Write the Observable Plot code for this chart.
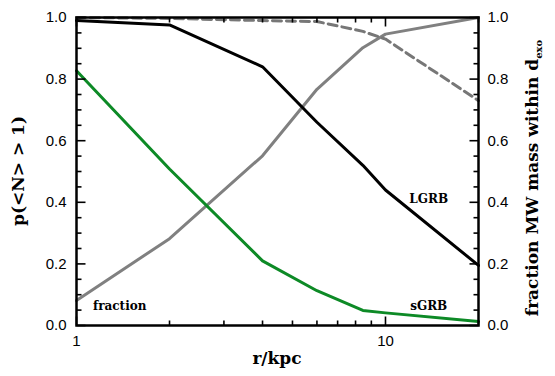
<!DOCTYPE html>
<html><head><meta charset="utf-8">
<script src="https://cdn.jsdelivr.net/npm/d3@7"></script>
<script src="https://cdn.jsdelivr.net/npm/@observablehq/plot@0.6"></script>
<style>body{margin:0;background:#fff}#chart svg{display:block}</style>
</head><body><div id="chart"></div>
<script>
const radius = [1, 2, 4, 6, 8.45, 10, 20];
const lgrb = [0.99, 0.976, 0.84, 0.66, 0.52, 0.44, 0.195];
const sgrb = [0.827, 0.508, 0.21, 0.113, 0.049, 0.041, 0.013];
const massFraction = [0.081, 0.282, 0.551, 0.767, 0.902, 0.946, 1.0];
const dashedFraction = [1.0, 0.997, 0.99, 0.987, 0.955, 0.93, 0.73];
const yTicks = [0, 0.2, 0.4, 0.6, 0.8, 1.0];
const yMinor = [0.05, 0.1, 0.15, 0.25, 0.3, 0.35, 0.45, 0.5, 0.55, 0.65, 0.7, 0.75, 0.85, 0.9, 0.95];
const xTicks = [1, 10];
const xMinor = [2, 3, 4, 5, 6, 7, 8, 9, 20];
const labels = [
  {text: "LGRB", r: 13.8, v: 0.41},
  {text: "sGRB", r: 13.8, v: 0.062},
  {text: "fraction", r: 1.38, v: 0.062}
];

const row = (ys) => radius.map((r, i) => ({r, v: ys[i]}));
const serif = "DejaVu Serif";
const sans = "Liberation Sans";

// inward tick helper built on vector marks positioned by the plot scales
const ticksV = (data, opts) => Plot.vector(data, {anchor: "start", stroke: "black", strokeWidth: 1.6, strokeLinecap: "butt", shape: {draw(ctx, l) { ctx.moveTo(0, 0); ctx.lineTo(0, -l); }}, ...opts});

const chart = Plot.plot({
  width: 555, height: 376,
  marginLeft: 76, marginRight: 77, marginTop: 17, marginBottom: 51,
  style: {background: "white", fontFamily: sans},
  x: {type: "log", domain: [1, 20]},
  y: {domain: [0, 1]},
  marks: [
    Plot.line(row(massFraction), {x: "r", y: "v", stroke: "#808080", strokeWidth: 3}),
    Plot.line(row(dashedFraction), {x: "r", y: "v", stroke: "#777777", strokeWidth: 3, strokeDasharray: "9,5"}),
    Plot.line(row(sgrb), {x: "r", y: "v", stroke: "#0d8a26", strokeWidth: 3}),
    Plot.line(row(lgrb), {x: "r", y: "v", stroke: "black", strokeWidth: 3}),
    ticksV(yTicks, {x: 1, y: d => d, rotate: 90, length: 9}),
    ticksV(yMinor, {x: 1, y: d => d, rotate: 90, length: 5}),
    ticksV(yTicks, {x: 20, y: d => d, rotate: -90, length: 9}),
    ticksV(yMinor, {x: 20, y: d => d, rotate: -90, length: 5}),
    ticksV(xTicks, {x: d => d, y: 0, rotate: 0, length: 9}),
    ticksV(xMinor, {x: d => d, y: 0, rotate: 0, length: 5}),
    ticksV(xTicks, {x: d => d, y: 1, rotate: 180, length: 9}),
    ticksV(xMinor, {x: d => d, y: 1, rotate: 180, length: 5}),
    Plot.frame({stroke: "black", strokeWidth: 2.5}),
    Plot.axisY({ticks: yTicks, tickSize: 0, tickPadding: 10, tickFormat: d3.format(".1f"), fontSize: 15, label: null}),
    Plot.axisY({anchor: "right", ticks: yTicks, tickSize: 0, tickPadding: 9, tickFormat: d3.format(".1f"), fontSize: 15, label: null}),
    Plot.axisX({ticks: xTicks, tickSize: 0, tickPadding: 10, tickFormat: d3.format("d"), fontSize: 15, label: null}),
    Plot.text(labels, {x: "r", y: "v", text: "text", fontFamily: serif, fontWeight: "bold", fontSize: 12, fill: "black"})
  ]
});

const svg = d3.select(chart);
svg.append("text")
  .attr("x", 277).attr("y", 364)
  .attr("text-anchor", "middle")
  .attr("font-family", serif).attr("font-weight", "bold").attr("font-size", 17)
  .text("r/kpc");
svg.append("text")
  .attr("transform", "translate(24,171) rotate(-90)")
  .attr("text-anchor", "middle")
  .attr("font-family", serif).attr("font-weight", "bold").attr("font-size", 17)
  .text("p(<N> > 1)");
const rt = svg.append("text")
  .attr("transform", "translate(538,178) rotate(-90)")
  .attr("text-anchor", "middle")
  .attr("font-family", serif).attr("font-weight", "bold").attr("font-size", 17);
rt.append("tspan").text("fraction MW mass within d");
rt.append("tspan").attr("font-size", 10).attr("dy", 4).text("exo");

document.getElementById("chart").appendChild(chart);
</script>
</body></html>
